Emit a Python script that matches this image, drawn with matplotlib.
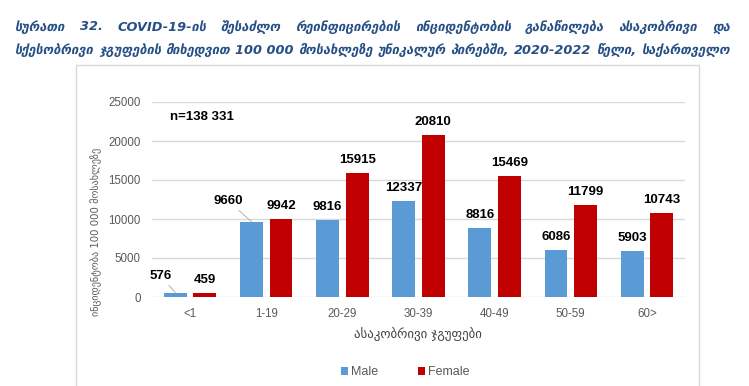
import matplotlib
import matplotlib.pyplot as plt
import numpy as np
from matplotlib.patches import Rectangle

matplotlib.use("Agg")

# --- data ---
age_groups = ["<1", "1-19", "20-29", "30-39", "40-49", "50-59", "60>"]
male = [576, 9660, 9816, 12337, 8816, 6086, 5903]
female = [459, 9942, 15915, 20810, 15469, 11799, 10743]
y_ticks = [0, 5000, 10000, 15000, 20000, 25000]

title_lines = [
    "სურათი 32. COVID-19-ის შესაძლო რეინფიცირების ინციდენტობის განაწილება ასაკობრივი და",
    "სქესობრივი ჯგუფების მიხედვით 100\u00a0000 მოსახლეზე უნიკალურ პირებში, 2020-2022 წელი, საქართველო",
]
y_label = "ინციდენტობა 100 000 მოსახლეზე"
x_label = "ასაკობრივი ჯგუფები"
n_note = "n=138 331"

# label offsets (pixels: dx, up) relative to the bar top; Excel moved two of them
male_offsets = [(-15, 17), (-23.5, 21)] + [(0, 13)] * 5
female_offsets = [(0, 13)] * 7

W, H = 749, 386
BLUE = "#5B9BD5"
RED = "#C00000"
GREY = "#595959"

plt.rcParams["font.family"] = ["Liberation Sans", "DejaVu Sans"]

fig = plt.figure(figsize=(W / 100, H / 100), dpi=100)

# chart frame
fig.patches.append(Rectangle((76 / W, -0.05), (699 - 76) / W, 1 - 65 / H + 0.05,
                             transform=fig.transFigure, fill=False,
                             edgecolor="#D9D9D9", lw=1))

ax = fig.add_axes([152 / W, 1 - 297 / H, (685 - 152) / W, (297 - 102) / H])
x = np.arange(len(age_groups))
bw = 0.30
off = 0.194
b_m = ax.bar(x - off, male, bw, color=BLUE, label="Male", zorder=3)
b_f = ax.bar(x + off, female, bw, color=RED, label="Female", zorder=3)

ax.set_xlim(-0.5, len(age_groups) - 0.5)
ax.set_ylim(0, 25000)
ax.set_yticks(y_ticks)
ax.set_xticks(x, age_groups)
ax.tick_params(length=0, colors=GREY, labelsize=8.3)
ax.tick_params(axis="y", pad=8)
ax.tick_params(axis="x", pad=8)
ax.grid(axis="y", color="#D9D9D9", lw=1, zorder=0)
for s in ax.spines.values():
    s.set_visible(False)


def put_labels(xs, vals, offsets):
    for xi, v, (dx, dy) in zip(xs, vals, offsets):
        arrow = None
        if dx != 0:
            arrow = dict(arrowstyle="-", color="#A6A6A6", lw=0.6, shrinkA=1, shrinkB=0)
        ax.annotate(str(v), xy=(xi, v), xytext=(dx * 0.72, dy * 0.72),
                    textcoords="offset points", ha="center", va="center",
                    fontsize=9.5, fontweight="bold", color="black",
                    arrowprops=arrow, zorder=4)


put_labels(x - off, male, male_offsets)
put_labels(x + off, female, female_offsets)

ax.text(202 / W, 1 - 117 / H, n_note, transform=fig.transFigure, ha="center",
        va="center", fontsize=9.5, fontweight="bold")

fig.text(96 / W, 1 - 232 / H, y_label, rotation=90, ha="center", va="center",
         fontsize=7.3, color=GREY, family=["DejaVu Sans"])
fig.text(418 / W, 1 - 334 / H, x_label, ha="center", va="center",
         fontsize=9.3, color="#404040", family=["DejaVu Sans"])

fig.legend(handles=[b_m, b_f], loc="center", bbox_to_anchor=(405 / W, 1 - 372 / H),
           ncol=2, frameon=False, fontsize=9, labelcolor=GREY,
           handlelength=0.6, handleheight=0.6, handletextpad=0.2, columnspacing=3.2)

# title: fit the second line to the width, then justify both lines
renderer = fig.canvas.get_renderer()
title_kw = dict(fontweight="bold", style="italic", color="#254F85",
                family=["DejaVu Sans"])
probe = fig.text(0, 0, title_lines[1], fontsize=10, **title_kw)
title_size = 10 * 712 / probe.get_window_extent(renderer).width
probe.remove()


def justify(text, y_px, x0, x1):
    words = text.split(" ")
    arts = [fig.text(0, 1 - y_px / H, w, va="center", fontsize=title_size, **title_kw)
            for w in words]
    widths = [a.get_window_extent(renderer).width for a in arts]
    gap = (x1 - x0 - sum(widths)) / (len(words) - 1)
    pos = x0
    for a, w in zip(arts, widths):
        a.set_x(pos / W)
        pos += w + gap


justify(title_lines[0], 27, 15, 730)
justify(title_lines[1], 50, 15, 730)

fig.savefig("out.png", dpi=100)
